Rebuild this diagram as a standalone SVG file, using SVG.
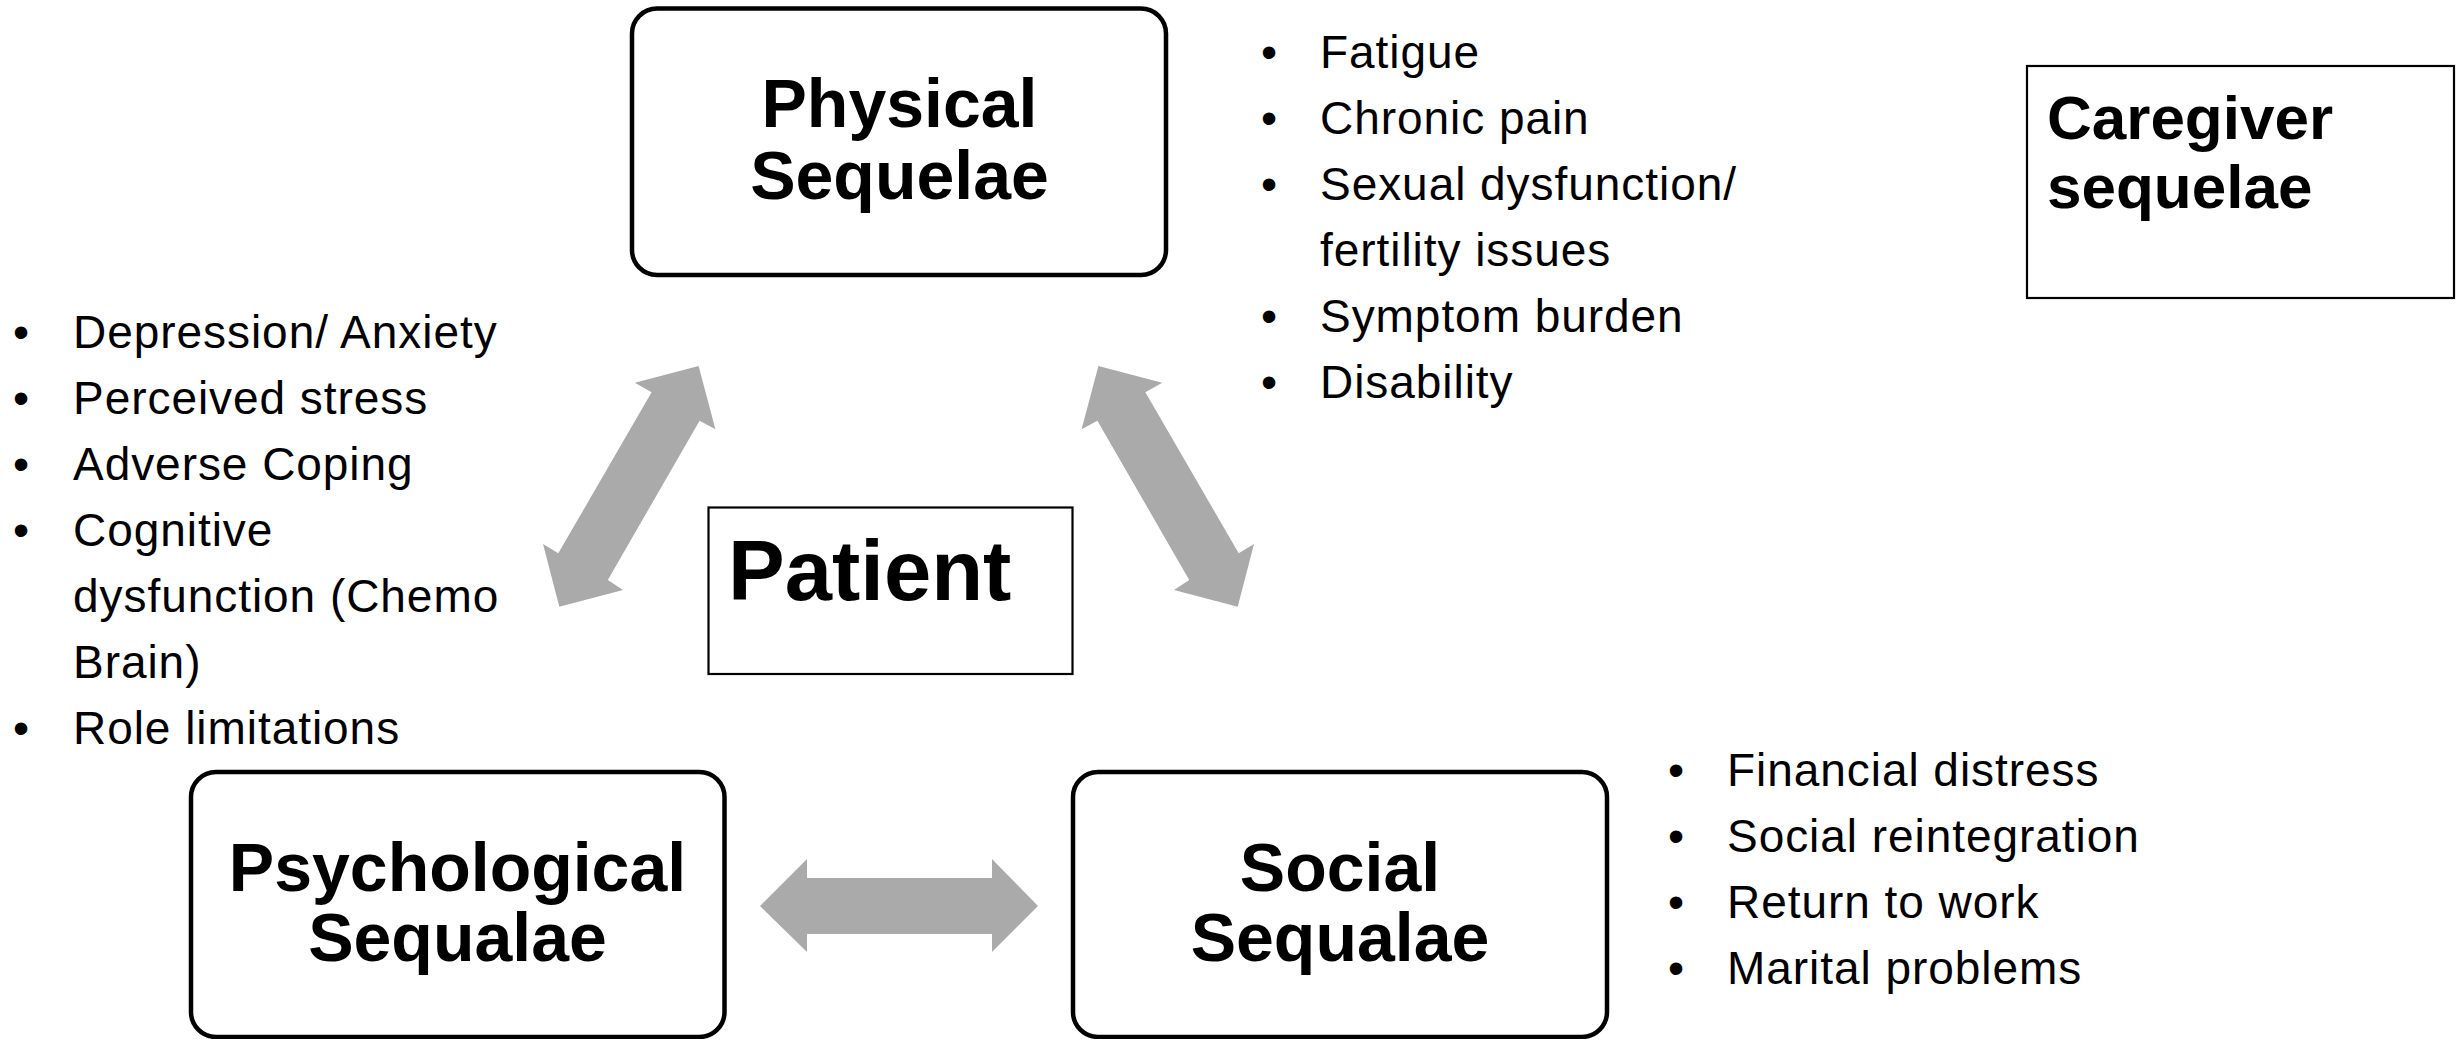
<svg xmlns="http://www.w3.org/2000/svg" width="2463" height="1039" viewBox="0 0 2463 1039">
<style>
.rbox{fill:#fff;stroke:#000;stroke-width:4.5}
.sbox{fill:#fff;stroke:#000;stroke-width:2.2}
.title{font-family:"Liberation Sans",Arial,sans-serif;font-weight:bold;font-size:68px;fill:#000;text-anchor:middle}
.bul{font-family:"Liberation Sans",Arial,sans-serif;font-size:46px;letter-spacing:0.95px;fill:#000}
.arr{fill:#AAAAAA;stroke:none}
</style>
<rect width="2463" height="1039" fill="#fff"/>
<g id="connectors">
<polygon class="arr" points="698.6,366 715.4,429.3 699.6,420.7 607.8,580 623,590 559.3,606.7 543,544 558.3,553.3 651.6,392.3 634.8,382.7"/>
<polygon class="arr" points="1098.4,366 1081.6,429.3 1097.4,420.7 1189.2,580 1174,590 1237.7,606.7 1254,544 1238.7,553.3 1145.4,392.3 1162.2,382.7"/>
<polygon class="arr" points="760,906 807,859 807,878 992,878 992,859 1038,906 992,952 992,934 807,934 807,952"/>
</g>
<g id="physical">
<rect class="rbox" x="632" y="8.5" width="534" height="266.5" rx="25" ry="25"/>
<text class="title" x="899.5" y="127">Physical</text>
<text class="title" x="899.5" y="199">Sequelae</text>
</g>
<g id="physical-list" class="bul">
<text x="1261" y="68">•</text><text x="1320" y="68">Fatigue</text>
<text x="1261" y="134">•</text><text x="1320" y="134">Chronic pain</text>
<text x="1261" y="200">•</text><text x="1320" y="200">Sexual dysfunction/</text>
<text x="1320" y="266">fertility issues</text>
<text x="1261" y="332">•</text><text x="1320" y="332">Symptom burden</text>
<text x="1261" y="398">•</text><text x="1320" y="398">Disability</text>
</g>
<g id="caregiver">
<rect class="sbox" x="2027" y="66" width="427" height="232"/>
<text x="2047" y="139" style="font-family:'Liberation Sans',Arial,sans-serif;font-weight:bold;font-size:62px">Caregiver</text>
<text x="2047" y="208" style="font-family:'Liberation Sans',Arial,sans-serif;font-weight:bold;font-size:62px">sequelae</text>
</g>
<g id="psych-list" class="bul">
<text x="13" y="348">•</text><text x="73" y="348">Depression/ Anxiety</text>
<text x="13" y="414">•</text><text x="73" y="414">Perceived stress</text>
<text x="13" y="480">•</text><text x="73" y="480">Adverse Coping</text>
<text x="13" y="546">•</text><text x="73" y="546">Cognitive</text>
<text x="73" y="612">dysfunction (Chemo</text>
<text x="73" y="678">Brain)</text>
<text x="13" y="744">•</text><text x="73" y="744">Role limitations</text>
</g>
<g id="patient">
<rect class="sbox" x="708.5" y="507.5" width="364" height="166.5"/>
<text x="728" y="600" style="font-family:'Liberation Sans',Arial,sans-serif;font-weight:bold;font-size:85px">Patient</text>
</g>
<g id="psychological">
<rect class="rbox" x="191" y="772" width="533.5" height="265" rx="25" ry="25"/>
<text class="title" x="457.5" y="891">Psychological</text>
<text class="title" x="457.5" y="961">Sequalae</text>
</g>
<g id="social">
<rect class="rbox" x="1073" y="772" width="534" height="265" rx="25" ry="25"/>
<text class="title" x="1340" y="891">Social</text>
<text class="title" x="1340" y="961">Sequalae</text>
</g>
<g id="social-list" class="bul">
<text x="1668" y="786">•</text><text x="1727" y="786">Financial distress</text>
<text x="1668" y="852">•</text><text x="1727" y="852">Social reintegration</text>
<text x="1668" y="918">•</text><text x="1727" y="918">Return to work</text>
<text x="1668" y="984">•</text><text x="1727" y="984">Marital problems</text>
</g>
</svg>
